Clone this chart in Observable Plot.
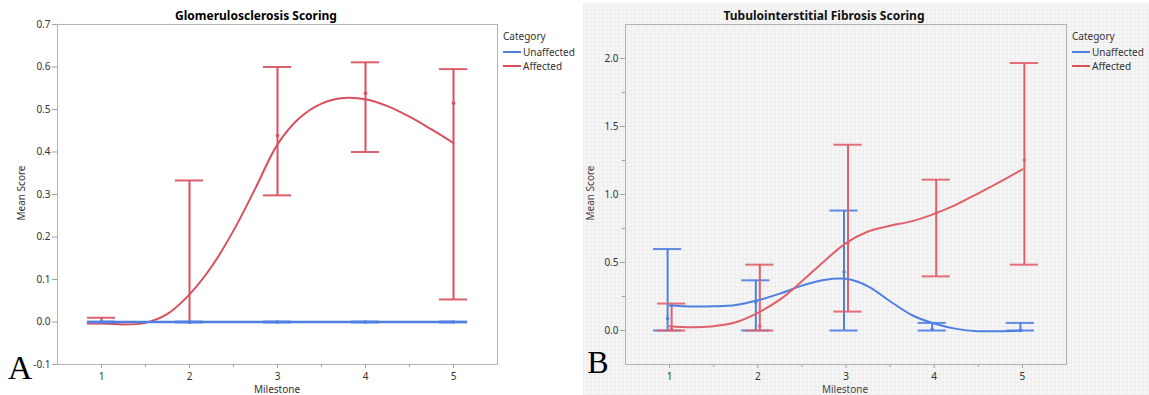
<!DOCTYPE html>
<html>
<head>
<meta charset="utf-8">
<script src="https://cdn.jsdelivr.net/npm/d3@7"></script>
<script src="https://cdn.jsdelivr.net/npm/@observablehq/plot@0.6"></script>
<style>
  html, body { margin: 0; padding: 0; background: #ffffff; }
  #root { position: relative; width: 1149px; height: 395px; overflow: hidden; font-family: "Noto Sans", "Open Sans", sans-serif; }
  .panel { position: absolute; top: 0; }
  .t { position: absolute; white-space: nowrap; transform: translate(-50%, -50%); line-height: 1; }
  .tl { position: absolute; white-space: nowrap; transform: translate(0, -50%); line-height: 1; }
  .sw { position: absolute; height: 2px; width: 18px; }
  #bgB { position: absolute; left: 583px; top: 3px; width: 566px; height: 392px; background-color: #f5f5f5;
         background-image: repeating-linear-gradient(0deg, rgba(0,0,0,0.025) 0px, rgba(0,0,0,0.025) 1px, transparent 1px, transparent 4px),
                           repeating-linear-gradient(90deg, rgba(0,0,0,0.025) 0px, rgba(0,0,0,0.025) 1px, transparent 1px, transparent 4px); }
</style>
</head>
<body>
<div id="root">
  <div id="bgB"></div>
</div>
<script>
// ---------- data ----------
const milestones = [1, 2, 3, 4, 5];
const categories = ["Unaffected", "Affected"];

// Panel A: Glomerulosclerosis Scoring
const gsUnaffectedMean = [0, 0, 0, 0, 0];
const gsUnaffectedLow  = [0, 0, 0, 0, 0];
const gsUnaffectedHigh = [0, 0, 0, 0, 0];
const gsAffectedMean = [0.0, 0.0, 0.439, 0.538, 0.515];
const gsAffectedLow  = [-0.004, 0.0, 0.298, 0.400, 0.053];
const gsAffectedHigh = [0.010, 0.333, 0.600, 0.611, 0.595];

// fitted smooth curves (read at milestone steps of 0.25)
const fitX = [1, 1.25, 1.5, 1.75, 2, 2.25, 2.5, 2.75, 3, 3.25, 3.5, 3.75, 4, 4.25, 4.5, 4.75, 5];
const gsUnaffectedFit = [0, 0, 0, 0, 0, 0, 0, 0, 0, 0, 0, 0, 0, 0, 0, 0, 0];
const gsAffectedFit = [-0.002, -0.006, -0.002, 0.019, 0.065, 0.130, 0.215, 0.315, 0.418, 0.480, 0.514, 0.527, 0.524, 0.508, 0.483, 0.453, 0.421];

// Panel B: Tubulointerstitial Fibrosis Scoring
const tfUnaffectedMean = [0.088, 0.210, 0.430, 0.007, 0.0];
const tfUnaffectedLow  = [0, 0, 0, 0, 0];
const tfUnaffectedHigh = [0.599, 0.369, 0.882, 0.056, 0.056];
const tfAffectedMean = [0.007, 0.032, 0.643, 0.863, 1.254];
const tfAffectedLow  = [0, 0, 0.139, 0.398, 0.484];
const tfAffectedHigh = [0.198, 0.484, 1.366, 1.109, 1.967];
const tfUnaffectedFit = [0.183, 0.176, 0.178, 0.188, 0.222, 0.271, 0.330, 0.372, 0.380, 0.325, 0.215, 0.112, 0.051, 0.012, -0.005, -0.005, 0.0];
const tfAffectedFit = [0.032, 0.024, 0.032, 0.061, 0.130, 0.227, 0.362, 0.508, 0.643, 0.728, 0.770, 0.804, 0.858, 0.926, 1.009, 1.095, 1.185];

const xTicks = [1, 2, 3, 4, 5];
const xMinorTicks = [1.5, 2.5, 3.5, 4.5];
const yTicksA = [-0.1, 0.0, 0.1, 0.2, 0.3, 0.4, 0.5, 0.6, 0.7];
const yTicksB = [0.0, 0.5, 1.0, 1.5, 2.0];
const yMinorTicksB = [0.25, 0.75, 1.25, 1.75];

// ---------- helpers ----------
const COLORS = {Unaffected: "#4f7fe0", Affected: "#d9505d"};
function rows(cat, mean, lo, hi) {
  return milestones.map((m, i) => ({m, cat, mean: mean[i], lo: lo[i], hi: hi[i]}));
}
function fit(cat, ys) { return fitX.map((x, i) => ({x, y: ys[i], cat})); }

const CAP = 0.16;
function barMarks(data, color, dx, sw) {
  return [
    Plot.ruleX(data, {x: "m", y1: "lo", y2: "hi", stroke: color, strokeWidth: sw, dx}),
    Plot.ruleY(data, {y: "hi", x1: d => d.m - CAP, x2: d => d.m + CAP, stroke: color, strokeWidth: sw, dx, strokeOpacity: 0.9}),
    Plot.ruleY(data, {y: "lo", x1: d => d.m - CAP, x2: d => d.m + CAP, stroke: color, strokeWidth: sw, dx, strokeOpacity: 0.9}),
    Plot.dot(data, {x: "m", y: "mean", r: 1.8, fill: color, stroke: null, dx})
  ];
}
function axes(yTicks, yMinor, fmt) {
  const ax = [
    Plot.frame({stroke: "#b4b4b4"}),
    Plot.axisY({ticks: yTicks, tickFormat: fmt, tickSize: 5, tickPadding: 2, stroke: "#a0a0a0", fill: "#333", fontSize: 10, label: null}),
    Plot.axisX({ticks: xTicks, tickFormat: d => String(d), tickSize: 4, tickPadding: 4, stroke: "#a0a0a0", fill: "#333", fontSize: 10, label: null}),
    Plot.axisX({ticks: xMinorTicks, tickFormat: () => "", tickSize: 3, stroke: "#a0a0a0", label: null})
  ];
  if (yMinor) ax.push(Plot.axisY({ticks: yMinor, tickFormat: () => "", tickSize: 3, stroke: "#a0a0a0", label: null}));
  return ax;
}

const root = document.getElementById("root");
function addText(txt, x, y, style, cls = "t") {
  const d = document.createElement("div");
  d.className = cls;
  d.textContent = txt;
  d.style.left = x + "px";
  d.style.top = y + "px";
  Object.assign(d.style, style || {});
  root.appendChild(d);
  return d;
}
function addLegend(x) {
  addText("Category", x, 36, {fontSize: "10px", color: "#333"}, "tl");
  categories.forEach((c, i) => {
    const y = 52 + i * 13.5;
    const s = document.createElement("div");
    s.className = "sw";
    s.style.left = x + "px"; s.style.top = (y - 1) + "px"; s.style.background = COLORS[c];
    root.appendChild(s);
    addText(c, x + 20, y, {fontSize: "10px", color: "#333"}, "tl");
  });
}

// ---------- Panel A ----------
const aU = rows("Unaffected", gsUnaffectedMean, gsUnaffectedLow, gsUnaffectedHigh);
const aA = rows("Affected", gsAffectedMean, gsAffectedLow, gsAffectedHigh);
const plotA = Plot.plot({
  width: 580, height: 395,
  marginLeft: 57, marginRight: 83, marginTop: 24, marginBottom: 31,
  style: {fontFamily: "Noto Sans, Open Sans, sans-serif", fontSize: "10px", background: "transparent", overflow: "visible"},
  x: {domain: [0.5, 5.5]},
  y: {domain: [-0.1, 0.7]},
  marks: [
    ...axes(yTicksA, null, d => d.toFixed(1)),
    ...barMarks(aA, COLORS.Affected, 0, 2),
    Plot.line(fit("Affected", gsAffectedFit), {x: "x", y: "y", stroke: COLORS.Affected, strokeWidth: 2, curve: "catmull-rom"}),
    Plot.line(fit("Unaffected", gsUnaffectedFit), {x: "x", y: "y", stroke: COLORS.Unaffected, strokeWidth: 2.5, curve: "catmull-rom"}),
    ...barMarks(aU, COLORS.Unaffected, 0, 2.5)
  ]
});
plotA.classList.add("panel");
plotA.style.left = "0px";
root.appendChild(plotA);

// ---------- Panel B ----------
const bU = rows("Unaffected", tfUnaffectedMean, tfUnaffectedLow, tfUnaffectedHigh);
const bA = rows("Affected", tfAffectedMean, tfAffectedLow, tfAffectedHigh);
const plotB = Plot.plot({
  width: 569, height: 395,
  marginLeft: 45, marginRight: 83, marginTop: 24, marginBottom: 31,
  style: {fontFamily: "Noto Sans, Open Sans, sans-serif", fontSize: "10px", background: "transparent", overflow: "visible"},
  x: {domain: [0.5, 5.5]},
  y: {domain: [-0.25, 2.25]},
  marks: [
    ...axes(yTicksB, yMinorTicksB, d => d.toFixed(1)),
    ...barMarks(bU, COLORS.Unaffected, -2, 2),
    ...barMarks(bA, "#e0606b", 2, 2),
    Plot.line(fit("Unaffected", tfUnaffectedFit), {x: "x", y: "y", stroke: COLORS.Unaffected, strokeWidth: 2, curve: "catmull-rom"}),
    Plot.line(fit("Affected", tfAffectedFit), {x: "x", y: "y", stroke: "#e0606b", strokeWidth: 2, curve: "catmull-rom"})
  ]
});
plotB.classList.add("panel");
plotB.style.left = "580px";
root.appendChild(plotB);

// ---------- titles, labels, legends ----------
addText("Glomerulosclerosis Scoring", 256, 16, {fontSize: "12px", fontWeight: "bold", color: "#000"});
addText("Tubulointerstitial Fibrosis Scoring", 824, 16, {fontSize: "12px", fontWeight: "bold", color: "#111"});
addText("Mean Score", 21, 193, {fontSize: "10px", color: "#333", transform: "translate(-50%,-50%) rotate(-90deg)"});
addText("Mean Score", 590, 193, {fontSize: "10px", color: "#444", transform: "translate(-50%,-50%) rotate(-90deg)"});
addText("Milestone", 277, 389, {fontSize: "10px", color: "#333"});
addText("Milestone", 845, 389, {fontSize: "10px", color: "#444"});
addLegend(503);
addLegend(1072);
addText("A", 20, 368, {fontSize: "34px", fontFamily: "Liberation Serif, DejaVu Serif, serif", color: "#000"});
addText("B", 598, 362, {fontSize: "32px", fontFamily: "Liberation Serif, DejaVu Serif, serif", color: "#000"});
</script>
</body>
</html>
